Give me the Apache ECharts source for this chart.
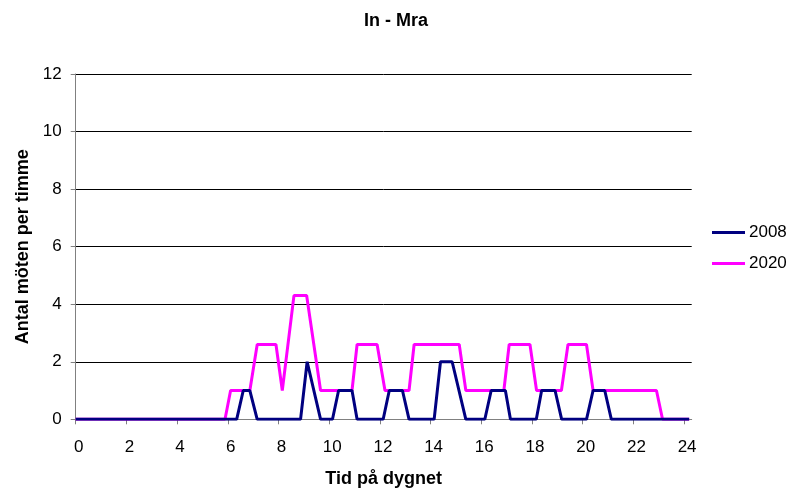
<!DOCTYPE html>
<html>
<head>
<meta charset="utf-8">
<script src="https://cdn.jsdelivr.net/npm/echarts@6/dist/echarts.min.js"></script>
<style>html,body{margin:0;padding:0;background:#fff}#c{width:792px;height:489px}</style>
</head>
<body>
<div id="c"></div>
<script>
var title = 'In - Mra';
var xName = 'Tid på dygnet';
var yName = 'Antal möten per timme';
var xTicks = [0,2,4,6,8,10,12,14,16,18,20,22,24];
var yTicks = [0,2,4,6,8,10,12];
var series2008 = [
  [0,0],[6.35,0],[6.61,1],[6.87,1],[7.16,0],[8.87,0],[9.13,2],[9.66,0],
  [10.13,0],[10.37,1],[10.90,1],[11.10,0],[12.13,0],[12.37,1],[12.89,1],[13.15,0],
  [14.14,0],[14.39,2],[14.85,2],[15.39,0],[16.14,0],[16.39,1],[16.95,1],[17.15,0],
  [18.17,0],[18.38,1],[18.91,1],[19.17,0],[20.15,0],[20.41,1],[20.87,1],[21.13,0],[24.2,0]
];
var series2020 = [
  [0,0],[5.89,0],[6.11,1],[6.87,1],[7.16,2.6],[7.90,2.6],[8.15,1],[8.61,4.3],[9.11,4.3],
  [9.66,1],[10.90,1],[11.10,2.6],[11.89,2.6],[12.20,1],[13.15,1],[13.35,2.6],[15.13,2.6],
  [15.39,1],[16.89,1],[17.10,2.6],[17.92,2.6],[18.18,1],[19.16,1],[19.42,2.6],[20.15,2.6],
  [20.41,1],[22.91,1],[23.15,0],[24.2,0]
];
var names = ['2008','2020'];

var chart = echarts.init(document.getElementById('c'), null, {renderer:'canvas'});
var font = 'Liberation Sans, Arial, sans-serif';
chart.setOption({
  animation: false,
  title: {
    text: title, left: 'center', top: 7,
    textStyle: {fontFamily: font, fontWeight: 'bold', fontSize: 18, color: '#000'}
  },
  legend: {
    orient: 'vertical', left: 707, top: 219, itemGap: 14, padding: 5,
    itemWidth: 33, itemHeight: 14,
    icon: 'path://M0,0 L33,0 L33,3 L0,3 Z',
    textStyle: {fontFamily: font, fontSize: 17, color: '#000', padding: [0,0,0,-1]},
    data: names
  },
  grid: {left: 75.7, right: 100.3, top: 74, bottom: 69.7, containLabel: false, outerBoundsMode: 'none'},
  xAxis: {
    type: 'value', min: 0, max: 24.3, interval: 2,
    name: xName, nameLocation: 'middle', nameGap: 51,
    nameTextStyle: {fontFamily: font, fontWeight: 'bold', fontSize: 18, color: '#000'},
    axisLine: {show: true, lineStyle: {color: '#808080', width: 1}},
    axisTick: {show: true, length: 5, inside: false, lineStyle: {color: '#808080'}, customValues: xTicks},
    axisLabel: {fontFamily: font, fontSize: 17, color: '#000', margin: 20, padding: [0,0,0,6], customValues: xTicks},
    splitLine: {show: false}
  },
  yAxis: {
    type: 'value', min: 0, max: 12, interval: 2,
    name: yName, nameLocation: 'middle', nameGap: 44, nameRotate: 90,
    nameTextStyle: {fontFamily: font, fontWeight: 'bold', fontSize: 18, color: '#000'},
    axisLine: {show: true, lineStyle: {color: '#808080', width: 1}},
    axisTick: {show: true, length: 5, lineStyle: {color: '#808080'}},
    axisLabel: {fontFamily: font, fontSize: 17, color: '#000', margin: 14},
    splitLine: {show: true, lineStyle: {color: '#000', width: 1}}
  },
  series: [
    {name: names[0], type: 'line', data: series2008, showSymbol: false, symbol: 'none',
     lineStyle: {color: '#000080', width: 3}, itemStyle: {color: '#000080'}, z: 3},
    {name: names[1], type: 'line', data: series2020, showSymbol: false, symbol: 'none',
     lineStyle: {color: '#FF00FF', width: 3}, itemStyle: {color: '#FF00FF'}, z: 2}
  ]
});
</script>
</body>
</html>
